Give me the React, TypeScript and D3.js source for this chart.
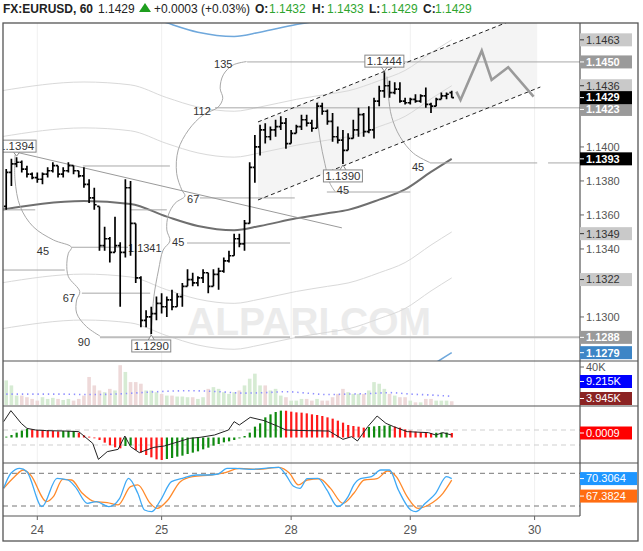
import React from 'react';
import * as d3 from 'd3';

// layout of the frame
const L = 3, R = 580, AX = 638;
const TOP = 23, MAIN_B = 361, VOL_B = 406, MACD_B = 463, STO_B = 516, BOT = 541;

// bar index 0 = 24th 00:00, one bar per hour (weekend skipped)
const firstBar = -6;
const dayTicks = [0, 24, 49, 72, 96];
const dayLabels = ['24', '25', '28', '29', '30'];

const opens = [1.1365, 1.1385, 1.1390, 1.1391, 1.1387, 1.1384, 1.1382, 1.1381, 1.1384, 1.1386, 1.1389, 1.1384, 1.1386, 1.1389, 1.1386, 1.1383, 1.1378, 1.1370, 1.1365, 1.1342, 1.1346, 1.1338, 1.1342, 1.1338, 1.1376, 1.1355, 1.1323, 1.1298, 1.1300, 1.1302, 1.1308, 1.1306, 1.1310, 1.1306, 1.1312, 1.1318, 1.1322, 1.1320, 1.1323, 1.1326, 1.1318, 1.1325, 1.1327, 1.1333, 1.1336, 1.1346, 1.1343, 1.1355, 1.1388, 1.1400, 1.1410, 1.1406, 1.1410, 1.1412, 1.1414, 1.1402, 1.1408, 1.1412, 1.1416, 1.1414, 1.1411, 1.1424, 1.1421, 1.1415, 1.1406, 1.1404, 1.1398, 1.1405, 1.1410, 1.1419, 1.1409, 1.1410, 1.1427, 1.1433, 1.1436, 1.1432, 1.1434, 1.1427, 1.1426, 1.1428, 1.1427, 1.1430, 1.1425, 1.1424, 1.1428, 1.1430, 1.1432];
const highs = [1.1387, 1.1393, 1.1394, 1.1392, 1.1389, 1.1385, 1.1385, 1.1385, 1.1388, 1.1391, 1.1389, 1.1388, 1.1391, 1.1389, 1.1386, 1.1388, 1.1381, 1.1376, 1.1365, 1.1353, 1.1347, 1.1359, 1.1344, 1.1381, 1.1380, 1.1355, 1.1324, 1.1304, 1.1306, 1.1312, 1.1314, 1.1312, 1.1316, 1.1314, 1.1320, 1.1328, 1.1326, 1.1324, 1.1328, 1.1326, 1.1328, 1.1329, 1.1335, 1.1339, 1.1349, 1.1349, 1.1357, 1.1391, 1.1407, 1.1413, 1.1414, 1.1412, 1.1416, 1.1418, 1.1417, 1.1410, 1.1413, 1.1419, 1.1419, 1.1416, 1.1426, 1.1426, 1.1422, 1.1420, 1.1412, 1.1410, 1.1408, 1.1416, 1.1423, 1.1420, 1.1424, 1.1429, 1.1436, 1.1444, 1.1439, 1.1438, 1.1438, 1.1429, 1.1429, 1.1431, 1.1431, 1.1435, 1.1426, 1.1429, 1.1432, 1.1432, 1.1433];
const lows = [1.1363, 1.1377, 1.1388, 1.1385, 1.1382, 1.1381, 1.1379, 1.1378, 1.1382, 1.1385, 1.1382, 1.1382, 1.1385, 1.1384, 1.1382, 1.1376, 1.1367, 1.1363, 1.1339, 1.1339, 1.1332, 1.1338, 1.1306, 1.1335, 1.1336, 1.1320, 1.1294, 1.1294, 1.1290, 1.1298, 1.1302, 1.1300, 1.1304, 1.1306, 1.1306, 1.1318, 1.1318, 1.1318, 1.1320, 1.1314, 1.1318, 1.1316, 1.1326, 1.1332, 1.1336, 1.1341, 1.1339, 1.1355, 1.1379, 1.1395, 1.1402, 1.1404, 1.1406, 1.1410, 1.1399, 1.1402, 1.1408, 1.1410, 1.1412, 1.1409, 1.1411, 1.1419, 1.1413, 1.1403, 1.1402, 1.1390, 1.1398, 1.1405, 1.1406, 1.1406, 1.1408, 1.1405, 1.1424, 1.1429, 1.1429, 1.1431, 1.1426, 1.1425, 1.1425, 1.1426, 1.1426, 1.1423, 1.1420, 1.1424, 1.1428, 1.1428, 1.1429];
const closes = [1.1385, 1.1390, 1.1391, 1.1387, 1.1384, 1.1382, 1.1381, 1.1384, 1.1386, 1.1389, 1.1384, 1.1386, 1.1389, 1.1386, 1.1383, 1.1378, 1.1370, 1.1366, 1.1342, 1.1346, 1.1338, 1.1342, 1.1338, 1.1376, 1.1355, 1.1323, 1.1298, 1.1300, 1.1302, 1.1308, 1.1306, 1.1310, 1.1306, 1.1312, 1.1318, 1.1322, 1.1320, 1.1323, 1.1326, 1.1318, 1.1325, 1.1327, 1.1333, 1.1336, 1.1346, 1.1343, 1.1355, 1.1388, 1.1400, 1.1410, 1.1406, 1.1410, 1.1412, 1.1414, 1.1402, 1.1408, 1.1412, 1.1416, 1.1414, 1.1411, 1.1424, 1.1421, 1.1415, 1.1406, 1.1404, 1.1398, 1.1405, 1.1410, 1.1419, 1.1409, 1.1410, 1.1427, 1.1433, 1.1436, 1.1432, 1.1434, 1.1427, 1.1426, 1.1428, 1.1427, 1.1430, 1.1425, 1.1424, 1.1428, 1.1430, 1.1431, 1.1429];

// volume in thousands
const volumes = [25.9, 20.6, 9.9, 9.9, 8.2, 6.4, 4.6, 8.2, 6.4, 7.5, 6.4, 5.3, 6.4, 4.6, 6.4, 9.9, 29.5, 20.6, 15.3, 13.5, 17, 15.3, 41.9, 34.8, 24.1, 24.1, 22.4, 15.3, 15.3, 13.5, 11.7, 9.9, 9.9, 8.9, 8.9, 8.2, 8.2, 6.4, 8.2, 17, 18.8, 17, 13.5, 11.7, 13.5, 15.3, 20.6, 27.7, 33, 20.6, 20.6, 15.3, 17, 9.9, 8.2, 4.6, 4.6, 6.4, 6.4, 4.6, 6.4, 4.6, 4.6, 8.2, 11.7, 17, 13.5, 11.7, 11.7, 11.7, 15.3, 24.1, 22.4, 17, 11.7, 9.9, 8.2, 8.2, 4.6, 2.8, 2.8, 6.4, 6.4, 4.6, 4.6, 4.6, 3.945];
const volMaIdx = [-6, 4, 10, 15, 20, 25, 30, 35, 40, 44, 48, 52, 56, 60, 64, 68, 72, 76, 80];
const volMaVal = [11.5, 11.5, 11, 11.5, 13, 14.5, 15, 14, 12.5, 13, 14, 12.5, 11, 11.5, 12, 13, 11.5, 10.5, 9.215];

// moving average and its envelope offsets
const maIdx = [-7, 9, 18, 25, 31, 38, 43, 50, 56, 60, 66, 71, 76, 80];
const maVal = [1.1363, 1.13682, 1.13665, 1.1359, 1.13535, 1.1351, 1.13535, 1.1358, 1.1361, 1.1363, 1.1369, 1.1375, 1.13853, 1.1393];
const bandOffsets = [0.0043, 0.0070];
const outerOffset = 0.0114;

// oscillator histogram in 0.0001 units
const histogram = [1.7, 5, 9.7, 13.7, 17, 16.3, 15, 14.3, 13.7, 13, 12.3, 13, 13.1, 13.2, 9.7, 4.3, 1.7, -0.3, -5, -10.3, -15.7, -19.7, -21.7, -17, -16, -25, -30.3, -35, -39.7, -43.7, -45, -43, -41, -38.3, -36.3, -33, -30.3, -27.7, -23.7, -20.3, -16.3, -13, -9.7, -7.7, -5, -1.7, 3, 9.7, 21.7, 28.3, 40.3, 46.3, 51, 53.7, 53.5, 51.7, 50.3, 49.7, 48.3, 46.3, 45, 43, 40.3, 37.7, 33.7, 29.7, 25, 23, 21.7, 19.7, 21, 22.3, 23, 23.7, 24, 21.7, 19.7, 16.3, 13.7, 11.7, 10.5, 9.5, 9, 9.5, 9.8, 9.9, 9];
const momIdx = [-6.5, -5.1, -3.1, -2, -0.3, 1.8, 5.2, 8, 10.7, 11.8, 13.5, 15.6, 16.9, 18, 19.7, 22.5, 24.5, 27.3, 29.4, 31.4, 34.2, 36.9, 38, 39, 41.1, 43.8, 46.6, 48, 52.1, 56.3, 59, 60.7, 61.8, 63.8, 65.6, 67.3, 68.8, 71.4, 75.5, 76.9, 78.3, 80];
const momVal = [31.7, 53.7, 28.3, 18.3, 15, 13.7, 13, 11.7, -11.7, -43.7, -28.3, -23.7, 3, -18.3, -30.3, -19.7, -17, -8.3, -1.7, 0.3, 5, 15, 31.7, 25, 40.3, 33.7, 21.7, 15, 13.7, 13, -3.7, 1.7, -7, 21.7, 43, 28.3, 21.7, 11.7, 9.7, 5, 9.7, 5];

// stochastic
const kIdx = [-6.5, -5.1, -3.4, -2, 0.9, 3.8, 5.9, 7.3, 9.7, 11.4, 13.8, 15.9, 17.6, 19.4, 20.7, 22.1, 23.8, 25.9, 28, 30.7, 32.8, 34.9, 36.6, 38.3, 41.1, 46.6, 48, 49.4, 50.7, 52.1, 54.2, 55.9, 58, 60, 61.1, 62.4, 64.5, 66.3, 68, 69.7, 72.1, 73.1, 74.9, 76.9, 79, 80];
const kVal = [52.4, 80, 89, 83, 18.8, 70.8, 67.7, 55.5, 24.9, 28, 18.8, 34.1, 70.8, 43.3, 12.7, 9.6, 31, 64.7, 70.8, 76.9, 76.9, 78.7, 89, 89, 87.3, 91, 76.9, 56.7, 52.4, 70.2, 70.8, 49.4, 18.8, 37.1, 58.6, 70.2, 73.8, 86.1, 86.1, 49.4, 12.7, 9.6, 24.9, 43.3, 73.8, 70.3064];
const dIdx = [-6.5, -4.4, -2.7, -1.3, 1.8, 3.1, 4.9, 6.6, 8.7, 11.1, 13.5, 15.6, 18, 19.4, 21.8, 23.1, 25.2, 27.6, 30, 33.5, 36.3, 39, 42.5, 46.6, 48.7, 50.4, 52.1, 54.5, 56.6, 59, 61.1, 63.1, 65.6, 67.6, 69.3, 71.4, 73.5, 75.5, 78.3, 80];
const dVal = [52.4, 73.8, 86.1, 76.9, 28, 37.1, 69, 67.7, 43.3, 28, 26.1, 21.9, 55.5, 58.6, 24.9, 15.7, 31, 64.7, 73.8, 76.9, 81.2, 89, 87.3, 91, 80, 58.6, 67.7, 69.6, 52.4, 24.9, 43.3, 67.7, 70.2, 84.2, 73.8, 37.1, 15.7, 21.9, 43.3, 67.3824];

// drawings on the price panel (bar index, price)
const levels = [
  { p: 1.1450, j0: 40.5, j1: 140 }, { p: 1.1423, j0: 34.3, j1: 140 },
  { p: 1.13888, j0: 8.8, j1: 25.6 }, { p: 1.1363, j0: -8, j1: -0.4 },
  { p: 1.1370, j0: 31.4, j1: 49.7 }, { p: 1.1363, j0: 17.9, j1: 25 },
  { p: 1.1341, j0: 6.7, j1: 17.5 }, { p: 1.13435, j0: 28.9, j1: 48.8 },
  { p: 1.13276, j0: -8, j1: 5.3 }, { p: 1.1314, j0: 8.6, j1: 21.8 },
  { p: 1.13906, j0: 75.8, j1: 96.5 }, { p: 1.13906, j0: 98.6, j1: 140 },
  { p: 1.13735, j0: 55.9, j1: 72 },
];
const baseLevel = [{ p: 1.1288, j0: 12.1, j1: 48.8 }, { p: 1.1288, j0: 49.7, j1: 140 }];
const arcA: [number, number][] = [[40.4, 1.14502], [37.8, 1.14482], [35.9, 1.14424], [35.3, 1.14345], [35.8, 1.14286], [34.9, 1.14234], [32, 1.14188], [29.2, 1.141], [27.2, 1.13982], [26.9, 1.13845], [27.9, 1.13747], [28.5, 1.13712], [26.6, 1.13669], [25.3, 1.136], [25, 1.13512], [25.6, 1.13447], [24.3, 1.13394], [23.4, 1.13276], [22.5, 1.13119], [22.1, 1.12963], [21.9, 1.12894]];
const arcB: [number, number][] = [[-4.3, 1.13953], [-4.3, 1.13806], [-3.3, 1.13649], [-0.8, 1.13531], [3.1, 1.13453], [6.6, 1.1341], [6, 1.13375], [5.7, 1.13316], [6, 1.13237], [8.2, 1.13149], [7.6, 1.131], [7.6, 1.13022], [9.5, 1.12943], [12.1, 1.12888]];
const arcC: [number, number][] = [[54.2, 1.14266], [54.1, 1.14178], [54.6, 1.14041], [55.5, 1.13904], [56.5, 1.13786], [57.5, 1.13737]];
const arcD: [number, number][] = [[67.5, 1.14414], [67.8, 1.14296], [68.4, 1.14178], [70, 1.14061], [72.6, 1.13963], [75.8, 1.13908]];
const arcLabels = [
  { t: '135', j: 35.9, p: 1.14488 }, { t: '112', j: 31.8, p: 1.14212 }, { t: '67', j: 30.1, p: 1.13694 },
  { t: '45', j: 1.1, p: 1.13388 }, { t: '45', j: 27.2, p: 1.13441 }, { t: '67', j: 6.1, p: 1.13112 },
  { t: '90', j: 9, p: 1.12853 }, { t: '45', j: 73.5, p: 1.13882 }, { t: '45', j: 59, p: 1.13745 },
];
const trendLine: [number, number][] = [[-4.3, 1.13971], [58.8, 1.13524]];
const channelStart = 42.6, channelEnd = 96.5, channelSlope = 0.0001219;
const channelUpper = 1.14147, channelLower = 1.13688;
const forecast: [number, number][] = [[80.9, 1.14325], [81.7, 1.14276], [85.8, 1.14566], [87.7, 1.14394], [90.9, 1.14469], [95.8, 1.14296]];
const pivots = [
  { t: '1.1394', j: -4, p: 1.1394, up: true }, { t: '1.1290', j: 22, p: 1.1290, up: false },
  { t: '1.1390', j: 59, p: 1.1390, up: false }, { t: '1.1444', j: 67, p: 1.1444, up: true },
];
const priceTags = [
  { v: 1.1463, bg: '#c9c9c9', fg: '#333', b: false }, { v: 1.1450, bg: '#9a9a9a', fg: '#fff', b: true },
  { v: 1.1423, bg: '#9a9a9a', fg: '#fff', b: true }, { v: 1.1436, bg: '#c9c9c9', fg: '#333', b: false },
  { v: 1.1429, bg: '#000', fg: '#fff', b: true }, { v: 1.1393, bg: '#000', fg: '#fff', b: true },
  { v: 1.1349, bg: '#c9c9c9', fg: '#333', b: false }, { v: 1.1322, bg: '#c9c9c9', fg: '#333', b: false },
  { v: 1.1288, bg: '#9a9a9a', fg: '#fff', b: true }, { v: 1.1279, bg: '#3d85c6', fg: '#fff', b: true },
];

const FONT = '"Liberation Sans", Arial, sans-serif';
const fmt4 = d3.format('.4f');

function Tag({ y, text, bg, fg, bold, w = 52 }: any) {
  return (
    <g>
      <rect x={R} y={y - 6.5} width={w} height={13} fill={bg} />
      <line x1={R} x2={R + 4} y1={y} y2={y} stroke={fg} />
      <text x={R + 6} y={y} dy="0.35em" fontSize={11} fontWeight={bold ? 700 : 400} fill={fg}>{text}</text>
    </g>
  );
}

export default function App() {
  const x = d3.scaleLinear().domain([0, 96]).range([37.3, 534.6]);
  const yP = d3.scaleLinear().domain([1.12741, 1.14729]).range([MAIN_B, TOP]);
  const yV = d3.scaleLinear().domain([0, 40]).range([405, 367]);
  const yM = d3.scaleLinear().domain([-0.001, 0.001]).range([442.5, 432.5]);
  const yS = d3.scaleLinear().domain([20, 80]).range([506, 473.3]);
  const idx = d3.range(firstBar, firstBar + closes.length);

  const pLine = d3.line<[number, number]>().x(d => x(d[0])).y(d => yP(d[1]));
  const pCurve = d3.line<[number, number]>().x(d => x(d[0])).y(d => yP(d[1])).curve(d3.curveMonotoneX);
  const arcCurve = d3.line<[number, number]>().x(d => x(d[0])).y(d => yP(d[1])).curve(d3.curveCatmullRom);
  const ma: [number, number][] = maIdx.map((j, i) => [j, maVal[i]]);
  const shifted = (o: number) => ma.map(d => [d[0], d[1] + o] as [number, number]);

  const chU = (j: number) => channelUpper + (j - channelStart) * channelSlope;
  const chL = (j: number) => channelLower + (j - channelStart) * channelSlope;
  const chPoly: [number, number][] = [[channelStart, chU(channelStart)], [channelEnd, chU(channelEnd)], [channelEnd, chL(channelEnd)], [channelStart, chL(channelStart)]];

  const sLine = (ids: number[], vals: number[]) =>
    d3.line<number>().x((_, i) => x(ids[i])).y(v => yS(v)).curve(d3.curveMonotoneX)(vals) || '';
  const mLine = d3.line<number>().x((_, i) => x(momIdx[i])).y(v => yM(v * 0.0001))(momVal) || '';
  const vmLine = d3.line<number>().x((_, i) => x(volMaIdx[i])).y(v => yV(v)).curve(d3.curveMonotoneX)(volMaVal) || '';

  // tags keep a minimum gap so their texts do not collide
  const tagPos = new Map<number, number>();
  [...priceTags].sort((a, b) => b.v - a.v).reduce((prev, t) => {
    const y = Math.max(yP(t.v), prev + 11.8);
    tagPos.set(t.v, y);
    return y;
  }, -100);
  // tick labels that sit under a tag are left out
  const priceTicks = yP.ticks(10).filter(t => priceTags.every(g => Math.abs(yP(g.v) - yP(t)) > 9));
  const volLow = Math.min(yV(volumes[volumes.length - 1]), VOL_B - 7.5);
  const volHigh = Math.min(yV(volMaVal[volMaVal.length - 1]), volLow - 17);
  const kLast = yS(kVal[kVal.length - 1]);
  const dLast = Math.max(yS(dVal[dVal.length - 1]), kLast + 17.5);

  return (
    <svg width={643} height={551} style={{ position: 'absolute', left: 0, top: 0, fontFamily: FONT }}>
      <defs>
        <clipPath id="cMain"><rect x={L} y={TOP} width={R - L} height={MAIN_B - TOP} /></clipPath>
        <clipPath id="cVol"><rect x={L} y={MAIN_B} width={R - L} height={VOL_B - MAIN_B} /></clipPath>
        <clipPath id="cMacd"><rect x={L} y={VOL_B} width={R - L} height={MACD_B - VOL_B} /></clipPath>
        <clipPath id="cSto"><rect x={L} y={MACD_B} width={R - L} height={STO_B - MACD_B} /></clipPath>
      </defs>
      <rect width={643} height={551} fill="#fff" />

      {/* header */}
      <text y={13} fontSize={12} fill="#222">
        <tspan x={3} fontWeight={700}>FX:EURUSD, 60</tspan>
        <tspan x={98}>1.1429</tspan>
        <tspan x={154}>+0.0003 (+0.03%)</tspan>
        <tspan x={255} fontWeight={700}>O:</tspan><tspan x={269} fill="#2ea52e">1.1432</tspan>
        <tspan x={312} fontWeight={700}>H:</tspan><tspan x={327} fill="#2ea52e">1.1433</tspan>
        <tspan x={369} fontWeight={700}>L:</tspan><tspan x={381} fill="#2ea52e">1.1429</tspan>
        <tspan x={423} fontWeight={700}>C:</tspan><tspan x={435} fill="#2ea52e">1.1429</tspan>
      </text>
      <path d="M139,12 L145,3 L151,12 Z" fill="#1e9e1e" />

      {/* vertical day grid */}
      {dayTicks.map(t => (
        <line key={t} x1={x(t)} x2={x(t)} y1={TOP} y2={STO_B} stroke="#f0f0f0" />
      ))}

      {/* main price panel */}
      <g clipPath="url(#cMain)">
        <text x={187} y={335} fontSize={39} fontWeight={700} fill="#ebebeb">ALPARI.COM</text>
        <path d={pLine(chPoly) + 'Z'} fill="#f4f4f4" />
        {bandOffsets.map(o => (
          <g key={o}>
            <path d={pCurve(shifted(o)) || ''} fill="none" stroke="#d9d9d9" />
            <path d={pCurve(shifted(-o)) || ''} fill="none" stroke="#d9d9d9" />
          </g>
        ))}
        <path d={pCurve(shifted(outerOffset)) || ''} fill="none" stroke="#6fa8dc" strokeWidth={1.6} />
        <path d={pCurve(shifted(-outerOffset)) || ''} fill="none" stroke="#6fa8dc" strokeWidth={1.6} />
        <path d={pCurve(ma) || ''} fill="none" stroke="#6f6f6f" strokeWidth={2} />

        {levels.map((l, i) => (
          <line key={i} x1={x(l.j0)} x2={x(l.j1)} y1={yP(l.p)} y2={yP(l.p)} stroke="#a8a8a8" />
        ))}
        {baseLevel.map((l, i) => (
          <line key={i} x1={x(l.j0)} x2={x(l.j1)} y1={yP(l.p)} y2={yP(l.p)} stroke="#bdbdbd" strokeWidth={2} />
        ))}
        {[arcA, arcB, arcC, arcD].map((a, i) => (
          <path key={i} d={arcCurve(a) || ''} fill="none" stroke="#a8a8a8" />
        ))}
        <path d={pLine(trendLine) || ''} stroke="#9a9a9a" fill="none" />
        {arcLabels.map((a, i) => (
          <text key={i} x={x(a.j)} y={yP(a.p)} dy="0.35em" textAnchor="middle" fontSize={11} fill="#333">{a.t}</text>
        ))}
        <text x={x(17.5)} y={yP(1.13406)} dy="0.35em" fontSize={11} fill="#333">1.1341</text>

        <path d={pLine([[channelStart, chU(channelStart)], [channelEnd + 10, chU(channelEnd + 10)]]) || ''} stroke="#222" strokeDasharray="4,3" fill="none" />
        <path d={pLine([[channelStart, chL(channelStart)], [channelEnd + 0.6, chL(channelEnd + 0.6)]]) || ''} stroke="#222" strokeDasharray="4,3" fill="none" />

        {idx.map((j, i) => {
          const cx = x(j);
          return (
            <path key={j}
              d={`M${cx},${yP(highs[i])}V${yP(lows[i])}M${cx - 2.3},${yP(opens[i])}H${cx}M${cx},${yP(closes[i])}H${cx + 2.3}`}
              stroke="#000" strokeWidth={1.7} fill="none" />
          );
        })}
        <path d={pLine(forecast) || ''} stroke="#9a9a9a" strokeWidth={2.6} fill="none" strokeLinejoin="miter" />

        {pivots.map(p => {
          const cx = x(p.j), tip = yP(p.p);
          const by = p.up ? tip - 5 - 12 : tip + 6;
          const edge = p.up ? by + 12 : by;
          return (
            <g key={p.t}>
              <path d={`M${cx - 3},${edge}L${cx},${p.up ? tip - 1 : tip + 1}L${cx + 3},${edge}`} stroke="#888" fill="#fff" />
              <rect x={cx - 19.5} y={by} width={39} height={12} fill="#fff" stroke="#888" />
              <text x={cx} y={by + 6} dy="0.35em" textAnchor="middle" fontSize={11.5} fill="#333">{p.t}</text>
            </g>
          );
        })}
      </g>

      {/* volume panel */}
      <g clipPath="url(#cVol)">
        {idx.map((j, i) => (
          <rect key={j} x={x(j) - 1.8} y={yV(volumes[i])} width={3.6} height={yV(0) - yV(volumes[i])}
            fill={closes[i] >= opens[i] ? '#d6ebd3' : '#eed9d9'} />
        ))}
        <path d={vmLine} fill="none" stroke="#8f8fff" strokeWidth={1.6} strokeDasharray="1.4,3.8" />
      </g>

      {/* oscillator panel */}
      <g clipPath="url(#cMacd)">
        <line x1={L} x2={R} y1={yM(0.0015)} y2={yM(0.0015)} stroke="#cfcfcf" strokeDasharray="5,4" />
        <line x1={L} x2={R} y1={yM(-0.0015)} y2={yM(-0.0015)} stroke="#cfcfcf" strokeDasharray="5,4" />
        {idx.map((j, i) => {
          const v = histogram[i] * 0.0001;
          const up = i === 0 || histogram[i] >= histogram[i - 1];
          return (
            <rect key={j} x={x(j) - 1} width={2.2} y={Math.min(yM(v), yM(0))} height={Math.max(0.8, Math.abs(yM(v) - yM(0)))}
              fill={up ? '#0f8a0f' : '#ff1a1a'} />
          );
        })}
        <path d={mLine} fill="none" stroke="#222" strokeWidth={1} />
      </g>

      {/* stochastic panel */}
      <g clipPath="url(#cSto)">
        <line x1={L} x2={R} y1={yS(80)} y2={yS(80)} stroke="#777" strokeDasharray="5,4" />
        <line x1={L} x2={R} y1={yS(20)} y2={yS(20)} stroke="#777" strokeDasharray="5,4" />
        <path d={sLine(dIdx, dVal)} fill="none" stroke="#ff8a2b" strokeWidth={1.3} />
        <path d={sLine(kIdx, kVal)} fill="none" stroke="#3fa9f5" strokeWidth={1.3} />
      </g>

      {/* frame */}
      <rect x={L} y={TOP} width={AX - L} height={BOT - TOP} fill="none" stroke="#555" strokeWidth={1.3} />
      <line x1={R} x2={R} y1={TOP} y2={STO_B} stroke="#555" strokeWidth={1.2} />
      <line x1={L} x2={AX} y1={MAIN_B} y2={MAIN_B} stroke="#555" strokeWidth={1.2} />
      <line x1={L} x2={AX} y1={VOL_B} y2={VOL_B} stroke="#555" strokeWidth={1.2} />
      <line x1={L} x2={AX} y1={MACD_B} y2={MACD_B} stroke="#555" strokeWidth={1.2} />
      <line x1={L} x2={R} y1={STO_B} y2={STO_B} stroke="#555" strokeWidth={1.2} />

      {/* price axis */}
      {priceTicks.map(t => (
        <g key={t}>
          <line x1={R} x2={R + 4} y1={yP(t)} y2={yP(t)} stroke="#666" />
          <text x={R + 6} y={yP(t)} dy="0.35em" fontSize={11} fill="#555">{fmt4(t)}</text>
        </g>
      ))}
      {priceTags.map(t => (
        <Tag key={t.v} y={tagPos.get(t.v)} text={fmt4(t.v)} bg={t.bg} fg={t.fg} bold={t.b} />
      ))}

      {/* volume axis */}
      <line x1={R} x2={R + 4} y1={yV(40)} y2={yV(40)} stroke="#666" />
      <text x={R + 6} y={yV(40)} dy="0.35em" fontSize={11} fill="#555">40K</text>
      <Tag y={volHigh} text={`${volMaVal[volMaVal.length - 1]}K`} bg="#0000ff" fg="#fff" />
      <Tag y={volLow} text={`${volumes[volumes.length - 1]}K`} bg="#8b2323" fg="#fff" />

      {/* oscillator axis */}
      <Tag y={yM(histogram[histogram.length - 1] * 0.0001)} text={fmt4(histogram[histogram.length - 1] * 0.0001)} bg="#ff0000" fg="#fff" />

      {/* stochastic axis */}
      <Tag y={kLast} text={kVal[kVal.length - 1].toFixed(4)} bg="#1e96ff" fg="#fff" w={57} />
      <Tag y={dLast} text={dVal[dVal.length - 1].toFixed(4)} bg="#ff6d12" fg="#fff" w={57} />

      {/* time axis */}
      {dayTicks.map((t, i) => (
        <g key={t}>
          <line x1={x(t)} x2={x(t)} y1={STO_B} y2={STO_B + 4} stroke="#666" />
          <text x={x(t)} y={534} textAnchor="middle" fontSize={12} fill="#555">{dayLabels[i]}</text>
        </g>
      ))}
    </svg>
  );
}
